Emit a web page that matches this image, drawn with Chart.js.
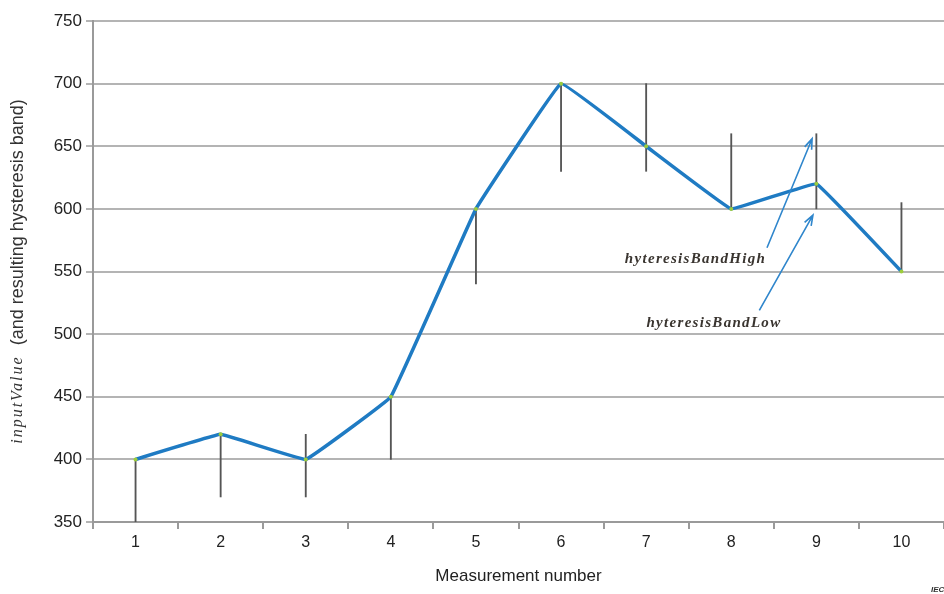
<!DOCTYPE html>
<html>
<head>
<meta charset="utf-8">
<script src="https://cdn.jsdelivr.net/npm/chart.js@4"></script>
<style>
  html, body { margin: 0; padding: 0; background: #fff; overflow: hidden; }
  #wrap { width: 944px; height: 594px; }
  canvas { display: block; }
</style>
</head>
<body>
<div id="wrap"><canvas id="hystChart" width="944" height="594"></canvas></div>
<script>
// DATA
const measurements = ["1", "2", "3", "4", "5", "6", "7", "8", "9", "10"];
const inputValue = [400, 420, 400, 450, 600, 700, 650, 600, 620, 550];
const bandLow  = [350, 370, 370, 400, 540, 630, 630, 600, 600, 550];
const bandHigh = [400, 420, 420, 450, 600, 700, 700, 660, 660, 605];
const yTicks = [350, 400, 450, 500, 550, 600, 650, 700, 750];

// annotation anchors in data units: [category index, value]
const noteHigh = { text: "hyteresisBandHigh", tail: [7.42, 569], tip: [7.95, 656], label: [7.41, 560] };
const noteLow  = { text: "hyteresisBandLow",  tail: [7.33, 519], tip: [7.96, 595], label: [7.59, 509] };

const bands = bandLow.map((lo, i) => [lo, bandHigh[i]]);

function drawArrow(ctx, x1, y1, x2, y2) {
  const ang = Math.atan2(y2 - y1, x2 - x1);
  const h = 11;
  ctx.beginPath();
  ctx.moveTo(x1, y1);
  ctx.lineTo(x2, y2);
  ctx.moveTo(x2 - h * Math.cos(ang - 0.35), y2 - h * Math.sin(ang - 0.35));
  ctx.lineTo(x2, y2);
  ctx.lineTo(x2 - h * Math.cos(ang + 0.35), y2 - h * Math.sin(ang + 0.35));
  ctx.stroke();
}

const extras = {
  id: "extras",
  afterDatasetsDraw(chart) {
    const { ctx, scales: { x, y }, chartArea } = chart;
    const px = (p) => [x.getPixelForValue(p[0]), y.getPixelForValue(p[1])];

    ctx.save();
    // arrows
    ctx.strokeStyle = "#2f86cc";
    ctx.lineWidth = 1.6;
    [noteHigh, noteLow].forEach(n => {
      const a = px(n.tail), b = px(n.tip);
      drawArrow(ctx, a[0], a[1], b[0], b[1]);
    });
    // labels
    ctx.fillStyle = "#3a3530";
    ctx.font = "bold italic 15px 'Liberation Serif'";
    ctx.letterSpacing = "1.3px";
    ctx.textAlign = "right";
    ctx.textBaseline = "middle";
    [noteHigh, noteLow].forEach(n => {
      const p = px(n.label);
      ctx.fillText(n.text, p[0], p[1]);
    });

    // y axis title: italic variable name + plain text
    const cy = (chartArea.top + chartArea.bottom) / 2;
    ctx.translate(18, cy);
    ctx.rotate(-Math.PI / 2);
    ctx.textBaseline = "middle";
    ctx.textAlign = "left";
    const f1 = "italic 16px 'Liberation Serif'";
    const f2 = "18px 'Liberation Sans'";
    const t1 = "inputValue", t2 = "  (and resulting hysteresis band)";
    ctx.letterSpacing = "2px";
    ctx.font = f1; const w1 = ctx.measureText(t1).width;
    ctx.letterSpacing = "0px";
    ctx.font = f2; const w2 = ctx.measureText(t2).width;
    let sx = -(w1 + w2) / 2;
    ctx.fillStyle = "#333";
    ctx.letterSpacing = "2px";
    ctx.font = f1; ctx.fillText(t1, sx, 0);
    ctx.letterSpacing = "0px";
    ctx.font = f2; ctx.fillText(t2, sx + w1, 0);
    ctx.restore();

    // IEC mark
    ctx.save();
    ctx.fillStyle = "#333";
    ctx.font = "bold italic 8px 'Liberation Sans'";
    ctx.textAlign = "left";
    ctx.textBaseline = "alphabetic";
    ctx.fillText("IEC", chart.width - 13, chart.height - 2);
    ctx.restore();
  }
};

new Chart(document.getElementById("hystChart"), {
  data: {
    labels: measurements,
    datasets: [
      {
        type: "line",
        data: inputValue,
        borderColor: "#1f7bc3",
        borderWidth: 3.5,
        tension: 0.05,
        pointRadius: 2,
        pointBackgroundColor: "#9ccc3c",
        pointBorderWidth: 0,
        order: 0
      },
      {
        type: "bar",
        data: bands,
        backgroundColor: "#555555",
        barThickness: 1.2,
        borderSkipped: false,
        order: 1
      }
    ]
  },
  options: {
    responsive: false,
    animation: false,
    layout: { autoPadding: false, padding: { top: 21, right: 0, bottom: 0, left: 0 } },
    plugins: { legend: { display: false }, tooltip: { enabled: false } },
    scales: {
      x: {
        type: "category",
        offset: true,
        grid: { offset: true, drawOnChartArea: false, tickLength: 7, color: "#9a9a9a", lineWidth: 2 },
        border: { color: "#9a9a9a", width: 2 },
        ticks: { color: "#222", font: { size: 16, family: "'Liberation Sans'" }, padding: 4 },
        title: {
          display: true,
          text: "Measurement number",
          color: "#222",
          font: { size: 17, family: "'Liberation Sans'" },
          padding: { top: 4, bottom: 7 }
        },
        afterFit(scale) {
          scale.height = 72;
          scale.paddingLeft = 0;
          scale.paddingRight = 0;
        }
      },
      y: {
        min: 350,
        max: 750,
        afterBuildTicks(scale) { scale.ticks = yTicks.map(v => ({ value: v })); },
        grid: { color: "#b4b4b4", lineWidth: 2, tickLength: 7 },
        border: { color: "#9a9a9a", width: 2 },
        ticks: { color: "#222", font: { size: 17, family: "'Liberation Sans'" }, padding: 4 },
        afterFit(scale) { scale.width = 93; }
      }
    }
  },
  plugins: [extras]
});
</script>
</body>
</html>
